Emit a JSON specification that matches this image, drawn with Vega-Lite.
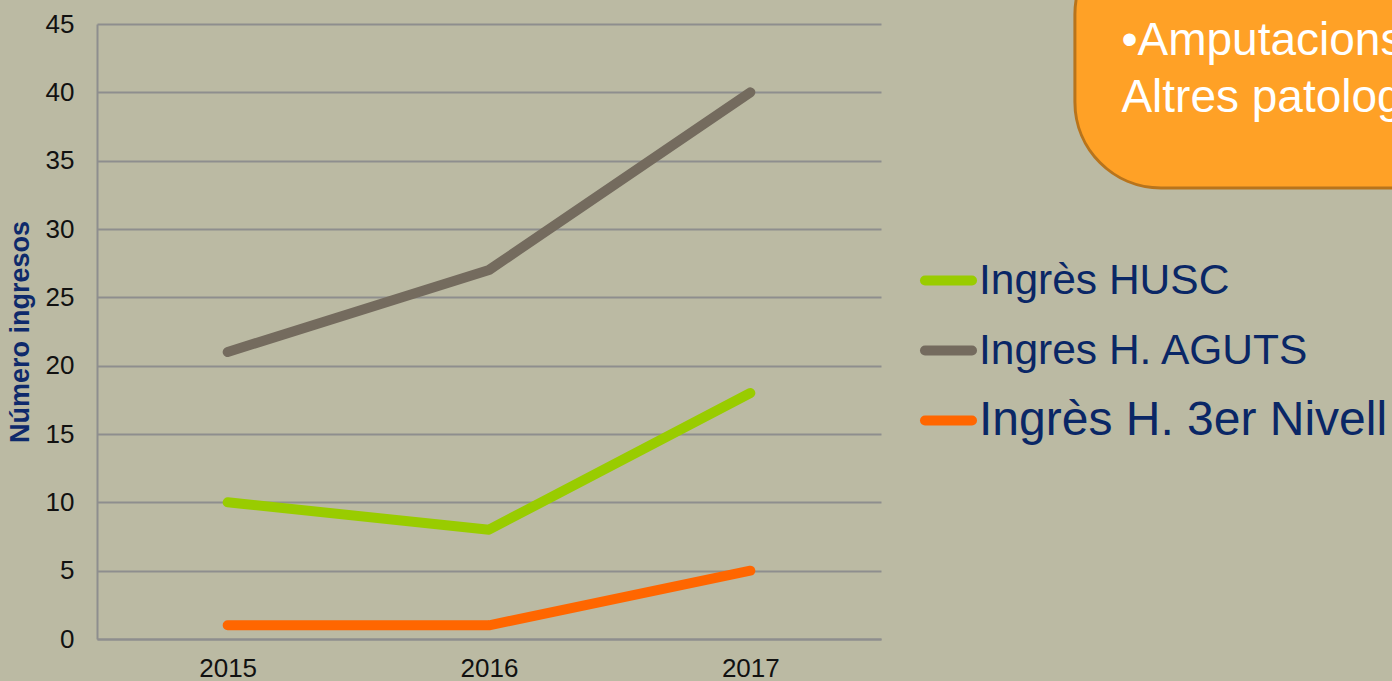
{
  "$schema": "https://vega.github.io/schema/vega-lite/v6.json",
  "width": 784,
  "height": 615,
  "autosize": {"type": "none"},
  "padding": {"left": 97, "top": 24, "right": 511, "bottom": 42},
  "background": "#BBBAA3",
  "config": {
    "view": {"stroke": null},
    "font": "Liberation Sans"
  },
  "layer": [
    {
      "data": {"values": [{"note": "•Amputacions\nAltres patologies"}]},
      "mark": {"type": "rect", "fill": "#FFA126", "stroke": "#B8741C", "strokeWidth": 3, "cornerRadius": 86, "clip": false},
      "encoding": {
        "x": {"datum": 2018.242, "type": "quantitative"},
        "x2": {"datum": 2021.5},
        "y": {"datum": 33.0, "type": "quantitative"},
        "y2": {"datum": 52}
      }
    },
    {
      "data": {"values": [{"note": "•Amputacions\nAltres patologies"}]},
      "mark": {"type": "text", "align": "left", "baseline": "alphabetic", "fontSize": 46, "color": "#FFFFFF", "lineBreak": "\n", "lineHeight": 57, "font": "Liberation Sans"},
      "encoding": {
        "x": {"datum": 2018.42, "type": "quantitative"},
        "y": {"datum": 42.73, "type": "quantitative"},
        "text": {"field": "note"}
      }
    },
    {
      "data": {
        "values": [
          {"year": 2015, "series": "Ingrès HUSC", "value": 10},
          {"year": 2016, "series": "Ingrès HUSC", "value": 8},
          {"year": 2017, "series": "Ingrès HUSC", "value": 18},
          {"year": 2015, "series": "Ingres H. AGUTS", "value": 21},
          {"year": 2016, "series": "Ingres H. AGUTS", "value": 27},
          {"year": 2017, "series": "Ingres H. AGUTS", "value": 40},
          {"year": 2015, "series": "Ingrès H. 3er Nivell", "value": 1},
          {"year": 2016, "series": "Ingrès H. 3er Nivell", "value": 1},
          {"year": 2017, "series": "Ingrès H. 3er Nivell", "value": 5}
        ]
      },
      "mark": {"type": "line", "strokeWidth": 10, "strokeCap": "round", "strokeJoin": "round"},
      "encoding": {
        "x": {
          "field": "year",
          "type": "quantitative",
          "scale": {"domain": [2014.5, 2017.5], "nice": false, "zero": false},
          "axis": {
            "values": [2015, 2016, 2017],
            "format": "d",
            "title": null,
            "grid": false,
            "ticks": false,
            "domain": true,
            "domainColor": "#8E8E8E",
            "domainWidth": 2,
            "labelFontSize": 26,
            "labelColor": "#111111",
            "labelPadding": 16,
            "labelFont": "Liberation Sans"
          }
        },
        "y": {
          "field": "value",
          "type": "quantitative",
          "scale": {"domain": [0, 45], "nice": false},
          "axis": {
            "values": [0, 5, 10, 15, 20, 25, 30, 35, 40, 45],
            "title": "Número ingresos",
            "titleFontSize": 27,
            "titleFont": "Liberation Sans",
            "titleFontWeight": "bold",
            "titleColor": "#0E2A6B",
            "titlePadding": 11,
            "grid": true,
            "gridColor": "#8E8E8E",
            "gridWidth": 2,
            "ticks": false,
            "domain": true,
            "domainColor": "#8E8E8E",
            "domainWidth": 2,
            "labelFontSize": 26,
            "labelColor": "#111111",
            "labelPadding": 23,
            "labelFont": "Liberation Sans"
          }
        },
        "color": {
          "field": "series",
          "type": "nominal",
          "scale": {
            "domain": ["Ingrès HUSC", "Ingres H. AGUTS", "Ingrès H. 3er Nivell"],
            "range": ["#99CC00", "#746B5E", "#FF6600"]
          },
          "legend": {
            "orient": "none",
            "legendX": 823,
            "legendY": 228,
            "title": null,
            "padding": 0,
            "symbolType": "stroke",
            "symbolSize": 2209,
            "symbolStrokeWidth": 10,
            "rowPadding": 20,
            "labelOffset": 2,
            "labelFontSize": 42.5,
            "labelFont": "Liberation Sans",
            "labelColor": "#0A2766",
            "labelLimit": 600,
            "encode": {
              "symbols": {"update": {"strokeCap": {"value": "round"}}},
              "labels": {"update": {"fontSize": {"signal": "datum.value === 'Ingrès H. 3er Nivell' ? 48 : 42.5"}}}
            }
          }
        }
      }
    }
  ]
}
